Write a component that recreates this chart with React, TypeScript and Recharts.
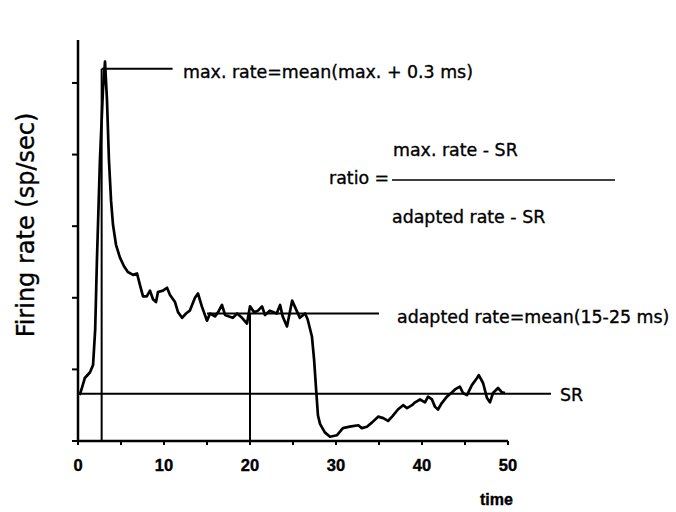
import React from "react";
import { LineChart, Line, XAxis, YAxis, ReferenceLine } from "recharts";

const timeMs = [
  0.2, 0.5, 0.8, 1.4, 1.75, 2.0, 2.2, 2.55, 2.9, 3.14, 3.37, 3.6, 3.84, 4.07, 4.42, 4.88, 5.35, 5.8, 6.4, 6.86,
  7.2, 7.56, 8.0, 8.37, 8.72, 9.07, 9.3, 9.88, 10.35, 10.7, 11.28, 11.63, 12.1, 12.56, 13.0, 13.6, 13.95, 14.4,
  15.0, 15.35, 15.93, 16.3, 16.74, 17.1, 17.56, 18.0, 18.5, 19.07, 19.65, 20.0, 20.47, 20.93, 21.4, 21.74, 22.3,
  23.1, 23.5, 23.8, 24.3, 24.9, 25.2, 25.8, 26.4, 26.7, 27.2, 27.45, 27.7, 27.9, 28.14, 28.7, 29.3, 30.1, 30.8,
  31.6, 32.6, 33.0, 33.6, 34.2, 34.9, 35.5, 36.05, 36.6, 37.2, 37.8, 38.26, 38.84, 39.2, 39.77, 40.35, 40.7,
  41.16, 41.5, 41.86, 42.3, 42.9, 43.5, 43.84, 44.4, 44.77, 45.23, 45.8, 46.4, 46.6, 47.1, 47.56, 47.9, 48.26,
  48.84, 49.3, 49.65,
];

const firingRate = [
  32, 38, 44, 48, 53, 78, 126, 196, 245, 265, 238, 196, 168, 151, 137, 128, 122, 118, 116, 117,
  109, 101, 101, 105, 99, 97, 104, 105, 107, 102, 97, 90, 86, 89, 91, 100, 103, 94,
  84, 89, 87, 90, 95, 88, 87, 86, 89, 86, 82, 94, 90, 91, 94, 88, 91,
  89, 95, 87, 80, 98, 94, 86, 89, 85, 73, 57, 35, 18, 12, 6, 3, 4, 9,
  10, 11, 9, 10, 13, 17, 16, 14, 17.5, 22, 25, 23, 25, 27, 29, 27, 31,
  29, 24, 22, 26.5, 31, 34, 36, 38, 33.5, 32, 39, 44, 46, 40.5, 30, 27, 33.5,
  37, 34, 33.5,
];

const xTicks = [0, 5, 10, 15, 20, 25, 30, 35, 40, 45, 50];
const yTicks = [0, 50, 100, 150, 200, 250];

const spontaneousRate = 33;
const srLineEnd = 55;
const maxRate = 260;
const maxRateTime = 2.75;
const maxLineEnd = 11;
const adaptedRate = 89;
const adaptedLineStart = 15;
const adaptedLineEnd = 35;
const adaptedMarkTime = 20;
const axisEnd = 50;

const data = timeMs.map((t, i) => ({ t, rate: firingRate[i] }));

const FONT = "'DejaVu Sans', sans-serif";
const TICK_FONT = "'Liberation Sans', Arial, sans-serif";

export default function App() {
  return (
    <div style={{ position: "absolute", left: 0, top: 0, width: 676, height: 512, background: "#fff", fontFamily: FONT }}>
      <LineChart
        width={676}
        height={512}
        data={data}
        margin={{ top: 40, right: 82, left: 38, bottom: 41 }}
        style={{ fontFamily: FONT }}
      >
        <XAxis
          dataKey="t"
          type="number"
          domain={[0, 60]}
          ticks={xTicks}
          allowDataOverflow
          axisLine={false}
          tickLine={{ stroke: "#000", strokeWidth: 2 }}
          tickSize={4}
          tickMargin={14}
          height={30}
          interval={0}
          tickFormatter={(v: number) => (v % 10 === 0 ? String(v) : "")}
          tick={{ fill: "#000", fontSize: 16.5, fontWeight: 700, fontFamily: TICK_FONT, stroke: "#000", strokeWidth: 0.4 }}
        />
        <YAxis
          type="number"
          domain={[0, 280]}
          ticks={yTicks}
          allowDataOverflow
          width={40}
          axisLine={{ stroke: "#000", strokeWidth: 2.5 }}
          tickLine={{ stroke: "#000", strokeWidth: 2 }}
          tickSize={6}
          tickFormatter={() => ""}
        />
        <ReferenceLine
          segment={[{ x: 0, y: 0 }, { x: axisEnd, y: 0 }]}
          stroke="#000"
          strokeWidth={2.5}
          ifOverflow="visible"
        />
        <ReferenceLine
          segment={[{ x: 0, y: spontaneousRate }, { x: srLineEnd, y: spontaneousRate }]}
          stroke="#000"
          strokeWidth={2}
          ifOverflow="visible"
        />
        <ReferenceLine
          segment={[{ x: maxRateTime, y: 0 }, { x: maxRateTime, y: maxRate }]}
          stroke="#000"
          strokeWidth={2}
          ifOverflow="visible"
        />
        <ReferenceLine
          segment={[{ x: maxRateTime, y: maxRate }, { x: maxLineEnd, y: maxRate }]}
          stroke="#000"
          strokeWidth={2}
          ifOverflow="visible"
        />
        <ReferenceLine
          segment={[{ x: adaptedLineStart, y: adaptedRate }, { x: adaptedLineEnd, y: adaptedRate }]}
          stroke="#000"
          strokeWidth={2}
          ifOverflow="visible"
        />
        <ReferenceLine
          segment={[{ x: adaptedMarkTime, y: 0 }, { x: adaptedMarkTime, y: adaptedRate }]}
          stroke="#000"
          strokeWidth={2}
          ifOverflow="visible"
        />
        <Line
          type="linear"
          dataKey="rate"
          stroke="#000"
          strokeWidth={2.7}
          strokeLinejoin="round"
          dot={false}
          isAnimationActive={false}
        />
      </LineChart>
      <svg
        width={676}
        height={512}
        style={{ position: "absolute", left: 0, top: 0, pointerEvents: "none" }}
        fontFamily={FONT}
      >
        <g fill="#000" stroke="#000" strokeWidth={0.35}>
          <text transform="translate(34,225) rotate(-90)" textAnchor="middle" fontSize={24}>
            Firing rate (sp/sec)
          </text>
          <text x={183} y={78} fontSize={17.4}>max. rate=mean(max. + 0.3 ms)</text>
          <text x={329} y={184} fontSize={17.4}>ratio =</text>
          <text x={393} y={156} fontSize={17.4}>max. rate - SR</text>
          <text x={392} y={223} fontSize={17.4}>adapted rate - SR</text>
          <text x={397} y={323} fontSize={17.4}>adapted rate=mean(15-25 ms)</text>
          <text x={560} y={401} fontSize={17.4}>SR</text>
          <text x={480} y={505} fontSize={16} fontWeight={700} fontFamily={TICK_FONT}>time</text>
        </g>
        <line x1={392} y1={180} x2={615} y2={180} stroke="#000" strokeWidth={1.5} />
      </svg>
    </div>
  );
}
